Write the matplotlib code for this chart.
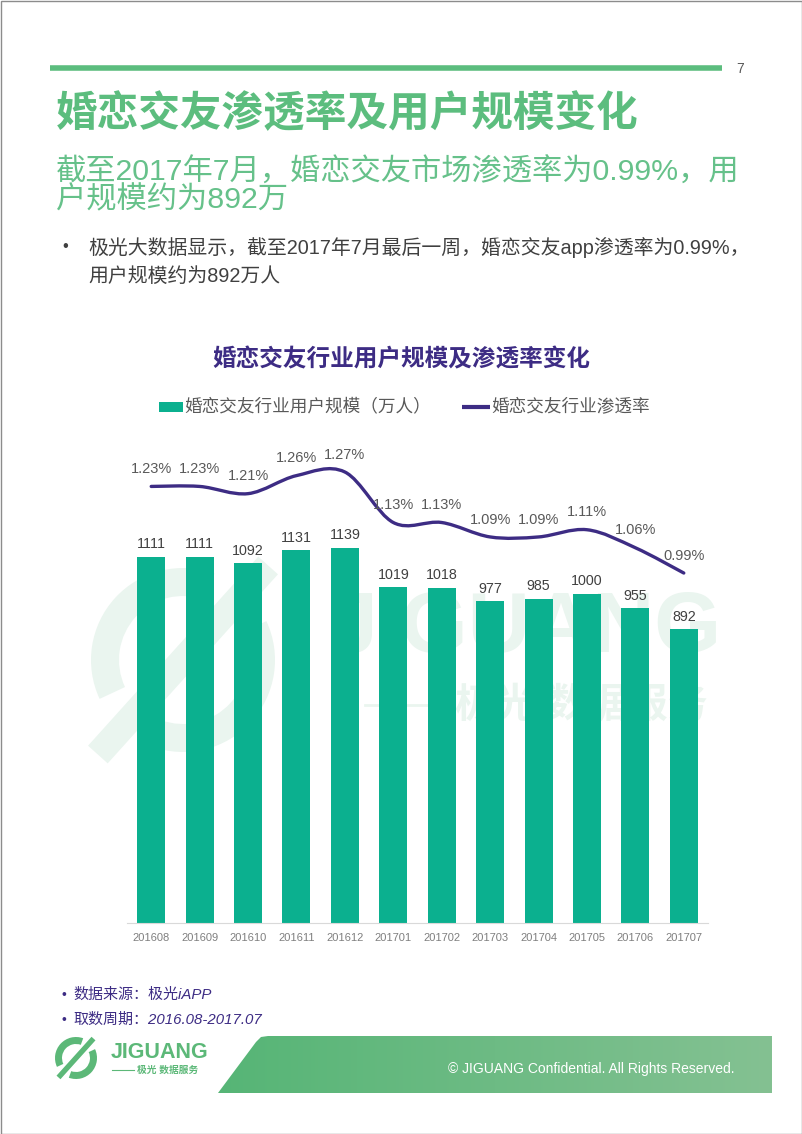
import matplotlib.pyplot as plt
import numpy as np
from matplotlib.patches import Rectangle, Polygon, PathPatch, Wedge
from matplotlib.path import Path
from matplotlib.colors import LinearSegmentedColormap

# 数据
months = ['201608', '201609', '201610', '201611', '201612', '201701',
          '201702', '201703', '201704', '201705', '201706', '201707']
users = [1111, 1111, 1092, 1131, 1139, 1019, 1018, 977, 985, 1000, 955, 892]  # 万人
rate = [1.23, 1.23, 1.21, 1.26, 1.27, 1.13, 1.13, 1.09, 1.09, 1.11, 1.06, 0.99]  # %

GREEN = '#5cbd7e'
BAR = '#0bb08f'
PURPLE = '#3d2c84'
W, H = 802, 1134

plt.rcParams['font.family'] = ['Liberation Sans', 'Noto Sans CJK SC', 'DejaVu Sans']

fig = plt.figure(figsize=(W / 100, H / 100), dpi=100)

# 背景层，用像素坐标
bg = fig.add_axes([0, 0, 1, 1], zorder=0)
bg.set_xlim(0, W)
bg.set_ylim(H, 0)
bg.axis('off')

bg.add_patch(Rectangle((0.5, 0.5), W - 1, H - 1, fill=False, ec='#8c8c8c', lw=1))
bg.plot([50, 722], [68, 68], color=GREEN, lw=4, solid_capstyle='butt')
bg.text(740, 69, '7', fontsize=10, color='#595959', ha='center', va='center')

bg.text(56, 115, '婚恋交友渗透率及用户规模变化', fontsize=30, fontweight='bold',
        color=GREEN, va='center')
bg.text(56, 172, '截至2017年7月，婚恋交友市场渗透率为0.99%，用', fontsize=21.8,
        color='#66c18a', va='center')
bg.text(56, 200, '户规模约为892万', fontsize=21.8, color='#66c18a', va='center')

bg.text(62, 247, '•', fontsize=12, color='#404040', va='center')
bg.text(88, 247, '极光大数据显示，截至2017年7月最后一周，婚恋交友app渗透率为0.99%，',
        fontsize=14.3, color='#404040', va='center')
bg.text(88, 276, '用户规模约为892万人', fontsize=14.3, color='#404040', va='center')

# 图表标题与图例
bg.text(401, 360, '婚恋交友行业用户规模及渗透率变化', fontsize=17, fontweight='bold',
        color=PURPLE, ha='center', va='center')
bg.add_patch(Rectangle((159, 402), 24, 10, color=BAR, lw=0))
bg.text(184, 407, '婚恋交友行业用户规模（万人）', fontsize=12.7, color='#595959', va='center')
bg.plot([462, 490], [407, 407], color=PURPLE, lw=3, solid_capstyle='butt')
bg.text(491, 407, '婚恋交友行业渗透率', fontsize=12.7, color='#595959', va='center')


def logo(cx, cy, r, t, half, bw, color, gap, z):
    # 两段圆弧 + 斜带（y 轴向下，角度取反）
    bg.add_patch(Wedge((cx, cy), r, -205, -70, width=t, color=color, lw=0, zorder=z))
    bg.add_patch(Wedge((cx, cy), r, -25, 110, width=t, color=color, lw=0, zorder=z))
    ang = np.deg2rad(48)
    d = np.array([np.cos(ang), -np.sin(ang)])
    nrm = np.array([d[1], -d[0]]) * bw / 2
    c = np.array([cx, cy])
    p1, p2 = c - d * half, c + d * half
    band = Polygon([p1 + nrm, p2 + nrm, p2 - nrm, p1 - nrm], closed=True,
                   fc=color, ec='white', lw=gap, zorder=z + 0.1)
    bg.add_patch(band)


# 水印
WM = '#eaf5ef'
logo(183, 660, 92, 28, 130, 32, WM, 4, 0)
bg.text(330, 630, 'JIGUANG', fontsize=62, fontweight='bold', color=WM, va='center', zorder=0)
bg.plot([365, 440], [705, 705], color=WM, lw=2, zorder=0)
bg.text(455, 705, '极光 数据服务', fontsize=29, fontweight='bold', color=WM, va='center', zorder=0)

# 底部说明
bg.text(62, 995, '•', fontsize=10, color=PURPLE, va='center')
bg.text(73, 995, '数据来源：极光iAPP', fontsize=10.8, color=PURPLE, va='center', style='italic')
bg.text(62, 1020, '•', fontsize=10, color=PURPLE, va='center')
bg.text(73, 1020, '取数周期：2016.08-2017.07', fontsize=10.8, color=PURPLE, va='center',
        style='italic')

# 底部绿色条
band = Polygon([(218, 1093), (256, 1042), (261, 1037), (268, 1036), (772, 1036), (772, 1093)],
               closed=True, fc='none', ec='none')
bg.add_patch(band)
grad = np.linspace(0, 1, 256).reshape(1, -1)
cmap = LinearSegmentedColormap.from_list('band', ['#56b576', '#84c192'])
im = bg.imshow(grad, cmap=cmap, extent=[218, 772, 1093, 1036], aspect='auto',
               interpolation='bilinear')
im.set_clip_path(band)
bg.set_xlim(0, W)
bg.set_ylim(H, 0)
bg.text(735, 1069, '© JIGUANG Confidential. All Rights Reserved.', fontsize=10,
        color='white', ha='right', va='center')

logo(76, 1058, 21, 7, 27, 7, '#5cb878', 1.2, 2)
bg.text(111, 1052, 'JIGUANG', fontsize=15.5, fontweight='bold', color='#5cb878', va='center')
bg.plot([112, 134], [1070, 1070], color='#5cb878', lw=0.8)
bg.text(137, 1070, '极光 数据服务', fontsize=7, fontweight='bold', color='#5cb878', va='center')

# 柱状图 + 渗透率折线
ax = fig.add_axes([127 / W, 1 - 923 / H, 581 / W, 483 / H], zorder=1)
ax.patch.set_alpha(0)
x = np.arange(len(months))
bars = ax.bar(x, users, width=0.58, color=BAR, zorder=2)
ax.set_xlim(-0.5, len(months) - 0.5)
ax.set_ylim(0, 483 / 0.3294)
for b, v in zip(bars, users):
    ax.annotate(str(v), (b.get_x() + b.get_width() / 2, v), xytext=(0, 4),
                textcoords='offset points', ha='center', va='bottom',
                fontsize=10.3, color='#404040')
ax.set_xticks(x)
ax.set_xticklabels(months, fontsize=8, color='#7f7f7f')
ax.tick_params(axis='x', length=0, pad=7)
ax.set_yticks([])
for s in ['top', 'left', 'right']:
    ax.spines[s].set_visible(False)
ax.spines['bottom'].set_color('#d9d9d9')

ax2 = ax.twinx()
ax2.set_ylim(0.02, 1.3587)
ax2.set_yticks([])
for s in ax2.spines.values():
    s.set_visible(False)

# 平滑曲线（Bezier）
pts = np.column_stack([x, rate]).astype(float)
verts = [tuple(pts[0])]
codes = [Path.MOVETO]
n = len(pts)
for i in range(n - 1):
    p0 = pts[i]
    p3 = pts[i + 1]
    pm = pts[i - 1] if i > 0 else p0
    p4 = pts[i + 2] if i + 2 < n else p3
    c1 = p0 + (p3 - pm) / 6
    c2 = p3 - (p4 - p0) / 6
    verts += [tuple(c1), tuple(c2), tuple(p3)]
    codes += [Path.CURVE4] * 3
ax2.add_patch(PathPatch(Path(verts, codes), fill=False, ec=PURPLE, lw=2.4,
                        capstyle='round', joinstyle='round', zorder=3))
for xi, r in zip(x, rate):
    ax2.annotate(f'{r:.2f}%', (xi, r), xytext=(0, 12.5), textcoords='offset points',
                 ha='center', va='center', fontsize=10.5, color='#595959')

fig.savefig('out.png', dpi=100)
